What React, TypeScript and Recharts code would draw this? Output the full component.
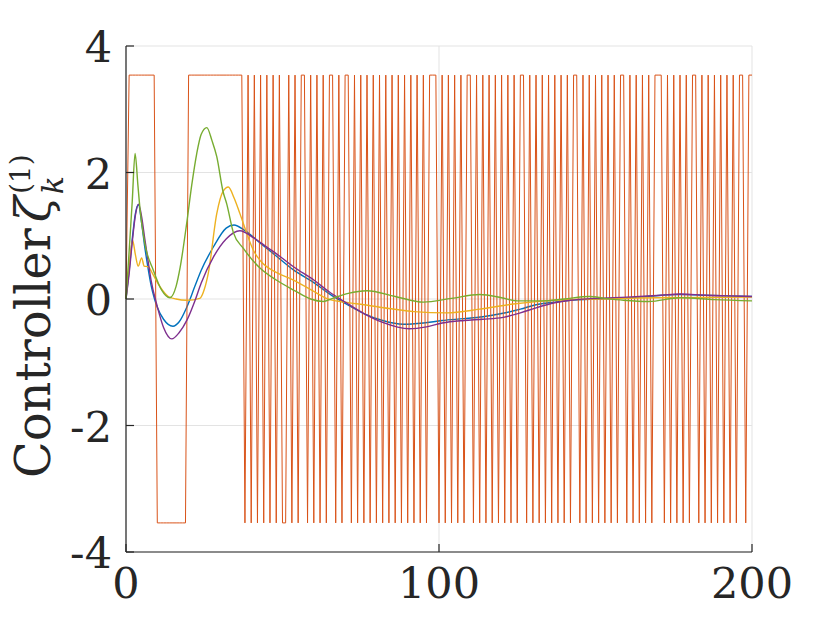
import React from 'react'
import { LineChart, Line, XAxis, YAxis, CartesianGrid } from 'recharts'

// switching amplitude of the bang-bang input
const U = 3.54

// sign of zeta_k^(1) for k = 0..200 (orange)
const controllerSign = [
  0, 1, 1, 1, 1, 1, 1, 1, 1, 1,
  -1, -1, -1, -1, -1, -1, -1, -1, -1, -1,
  1, 1, 1, 1, 1, 1, 1, 1, 1, 1,
  1, 1, 1, 1, 1, 1, 1, 1, -1, 1,
  -1, 1, -1, 1, -1, 1, -1, 1, -1, 1,
  -1, -1, 1, -1, 1, -1, 1, 1, -1, 1,
  -1, 1, -1, 1, -1, 1, 1, -1, 1, -1,
  1, 1, -1, 1, -1, 1, -1, 1, -1, 1,
  -1, 1, -1, 1, -1, 1, -1, 1, -1, 1,
  -1, 1, -1, 1, -1, 1, -1, 1, 1, 1,
  -1, 1, -1, 1, -1, 1, -1, 1, -1, 1,
  1, -1, 1, -1, 1, -1, 1, -1, 1, -1,
  1, -1, 1, -1, 1, -1, 1, 1, -1, 1,
  -1, 1, -1, 1, -1, 1, -1, 1, -1, 1,
  -1, 1, -1, 1, 1, -1, 1, -1, 1, -1,
  1, -1, 1, -1, 1, -1, 1, -1, 1, 1,
  -1, 1, -1, 1, -1, 1, -1, 1, -1, 1,
  1, 1, -1, 1, -1, 1, -1, 1, -1, 1,
  -1, 1, 1, -1, 1, -1, 1, -1, 1, -1,
  1, -1, 1, -1, 1, -1, 1, 1, -1, 1,
  1,
]

const bluePts = [
  [0, 0], [1, 0.45], [2, 0.95], [3, 1.35], [4, 1.49], [5, 1.2], [6, 0.82], [7, 0.5],
  [8, 0.22], [9, 0.02], [10, -0.13], [12, -0.32], [15, -0.43], [17, -0.36], [19.5, -0.12],
  [22, 0.2], [24, 0.45], [28, 0.83], [32, 1.12], [34.5, 1.17], [38, 1.08], [43, 0.88],
  [48, 0.68], [53.5, 0.46], [60, 0.26], [65, 0.08], [70, -0.07], [76, -0.23], [82, -0.34],
  [88.5, -0.4], [95, -0.38], [101, -0.34], [108, -0.31], [114, -0.28], [120, -0.23],
  [126, -0.16], [131, -0.09], [137, -0.05], [142, -0.02], [150, 0], [157, 0.01],
  [164, 0.03], [171, 0.06], [177, 0.07], [185, 0.06], [192, 0.05], [200, 0.04],
]

const purplePts = [
  [0, 0], [1, 0.4], [2, 0.9], [3, 1.32], [4, 1.5], [5, 1.3], [6, 0.95], [7, 0.62],
  [8, 0.3], [10, -0.12], [12, -0.45], [14.6, -0.63], [17, -0.53], [19.5, -0.33],
  [22, -0.03], [24, 0.25], [28, 0.67], [32, 0.95], [36.4, 1.08], [40.7, 0.97], [45, 0.82],
  [49, 0.68], [53.5, 0.51], [60, 0.3], [65, 0.11], [70, -0.05], [76, -0.23], [82, -0.37],
  [90.5, -0.47], [96, -0.44], [101, -0.38], [108, -0.34], [114, -0.32], [120.5, -0.29],
  [126, -0.22], [131, -0.14], [137, -0.06], [142, -0.02], [150, 0.01], [160, 0.03],
  [171, 0.06], [177, 0.08], [185, 0.06], [192, 0.05], [200, 0.04],
]

const greenPts = [
  [0, 0], [1, 0.75], [2, 1.55], [2.9, 2.3], [3.8, 1.8], [4.5, 1.41], [6, 0.88], [8.7, 0.46],
  [11.4, 0.14], [14, 0.02], [16, 0.2], [17.3, 0.5], [19.4, 1.2], [21, 1.8], [22.6, 2.3],
  [24, 2.6], [25.8, 2.71], [27.5, 2.5], [29, 2.25], [31, 1.7], [32.2, 1.5], [34.3, 1.05],
  [37.5, 0.8], [42.8, 0.49], [48, 0.3], [54, 0.13], [59, 0], [63, -0.04], [66, 0.01],
  [71, 0.09], [77, 0.13], [86, 0.04], [95, -0.05], [104, 0.01], [113, 0.07], [120, 0.02],
  [125, -0.03], [133, -0.03], [140, 0], [148, 0.04], [153, 0.01], [159, -0.02],
  [167, -0.04], [177, 0.02], [188, -0.01], [200, -0.03],
]

const yellowPts = [
  [0, 0], [1, 0.5], [2.1, 0.93], [3, 0.7], [3.9, 0.52], [5, 0.65], [5.8, 0.52], [7.1, 0.51],
  [8.7, 0.38], [10.9, 0.19], [13.5, 0.04], [16, 0], [19.4, -0.02], [23.6, 0.01], [25, 0.15],
  [26.3, 0.41], [29, 1.35], [31, 1.7], [32.7, 1.77], [34.5, 1.6], [36.4, 1.35], [38.5, 1.05],
  [40.7, 0.77], [43, 0.6], [48, 0.42], [53.5, 0.3], [60, 0.12], [64, 0.01], [70, -0.05],
  [76, -0.09], [84, -0.15], [92, -0.2], [102.5, -0.22], [113, -0.16], [123.7, -0.08],
  [134, -0.03], [150, 0], [170, 0.02], [200, 0.03],
]

const xTicks = [0, 100, 200]
const yTicks = [-4, -2, 0, 2, 4]

const toRows = (pts: number[][]) => pts.map(([k, v]) => ({ k, v }))
const orangeData = controllerSign.map((s, k) => ({ k, v: s * U }))

const FONT = '"DejaVu Serif", "Liberation Serif", serif'
const INK = '#262626'
const GAP = 15

const YTick = ({ x, y, payload }: any) => (
  <g>
    <line x1={x + GAP} x2={x + GAP + 8} y1={y} y2={y} stroke={INK} strokeWidth={1.2} />
    <text x={x + 1} y={y} dy={16} textAnchor="end" fontFamily={FONT} fontSize={43} fill={INK}>
      {payload.value}
    </text>
  </g>
)

const XTick = ({ x, y, payload }: any) => (
  <g>
    <line x1={x} x2={x} y1={y - GAP} y2={y - GAP - 8} stroke={INK} strokeWidth={1.2} />
    <text x={x} y={y - GAP + 46} textAnchor="middle" fontFamily={FONT} fontSize={43} fill={INK}>
      {payload.value}
    </text>
  </g>
)

const YLabel = ({ viewBox }: any) => {
  const x = viewBox.x + 50
  const y = viewBox.y + viewBox.height - 74
  return (
    <text transform={`rotate(-90, ${x}, ${y})`} x={x} y={y} fontFamily={FONT} fontSize={48} fill={INK}>
      <tspan>Controller</tspan>
      <tspan fontStyle="italic" dx={6}>ζ</tspan>
      <tspan fontStyle="italic" fontSize={30} dx={2} dy={13}>k</tspan>
      <tspan fontSize={28} dx={-18} dy={-33}>(1)</tspan>
    </text>
  )
}

const App = () => {
  return (
    <div style={{ position: 'absolute', left: 0, top: 0, background: '#fff' }}>
      <LineChart width={830} height={623} margin={{ top: 46, right: 78, bottom: 0, left: 0 }}>
        <CartesianGrid stroke="#e3e3e3" strokeWidth={1} />
        <XAxis
          type="number"
          dataKey="k"
          domain={[0, 200]}
          ticks={xTicks}
          height={71}
          tickSize={0}
          tickMargin={GAP}
          tickLine={false}
          axisLine={{ stroke: INK, strokeWidth: 1.2 }}
          tick={<XTick />}
        />
        <YAxis
          type="number"
          domain={[-4, 4]}
          ticks={yTicks}
          width={126}
          tickSize={0}
          tickMargin={GAP}
          tickLine={false}
          allowDataOverflow
          axisLine={{ stroke: INK, strokeWidth: 1.2 }}
          tick={<YTick />}
          label={{ content: <YLabel /> }}
        />
        <Line data={toRows(bluePts)} dataKey="v" type="monotone" stroke="#0072BD" strokeWidth={1.4} dot={false} isAnimationActive={false} />
        <Line data={orangeData} dataKey="v" type="linear" stroke="#D95319" strokeWidth={1} dot={false} isAnimationActive={false} />
        <Line data={toRows(yellowPts)} dataKey="v" type="monotone" stroke="#EDB120" strokeWidth={1.4} dot={false} isAnimationActive={false} />
        <Line data={toRows(purplePts)} dataKey="v" type="monotone" stroke="#7E2F8E" strokeWidth={1.4} dot={false} isAnimationActive={false} />
        <Line data={toRows(greenPts)} dataKey="v" type="monotone" stroke="#77AC30" strokeWidth={1.4} dot={false} isAnimationActive={false} />
      </LineChart>
    </div>
  )
}

export default App
